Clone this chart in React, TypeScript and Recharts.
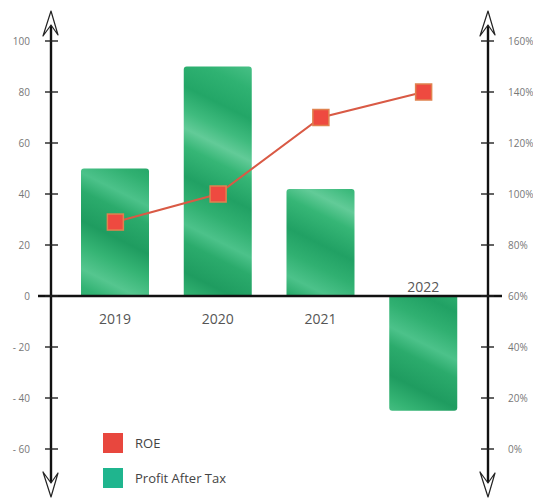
import React from 'react';
import { ComposedChart, Bar, Line, XAxis, YAxis, ReferenceLine, LabelList, Legend } from 'recharts';

const years = ['2019', '2020', '2021', '2022'];
const profitAfterTax = [50, 90, 42, -45];
const roe = [89, 100, 130, 140];
const leftTicks = [-60, -40, -20, 0, 20, 40, 60, 80, 100];
const rightTicks = [0, 20, 40, 60, 80, 100, 120, 140, 160];

const data = years.map((y, i) => ({ year: y, profit: profitAfterTax[i], roe: roe[i] }));

const FONT = '"Open Sans", "Noto Sans", sans-serif';
const RED = '#e8473e';
const TEAL = '#1fb58e';
const legendItems = [
  { name: 'ROE', color: RED },
  { name: 'Profit After Tax', color: TEAL },
];

const textureStops: [number, string][] = [
  [0, '#3dbd7f'], [0.04, '#56c690'], [0.07, '#34b677'], [0.11, '#2aaf6e'], [0.15, '#48c086'],
  [0.19, '#2fb272'], [0.24, '#23a667'], [0.28, '#3fbb7e'], [0.31, '#62cb98'], [0.34, '#36b676'],
  [0.39, '#21a164'], [0.43, '#30b071'], [0.47, '#4cc28a'], [0.5, '#2bab6c'], [0.55, '#1f9c60'],
  [0.59, '#35b474'], [0.63, '#55c68f'], [0.66, '#33b374'], [0.71, '#24a466'], [0.75, '#3cba7c'],
  [0.79, '#2aad6d'], [0.83, '#4dc38b'], [0.87, '#2cad6d'], [0.92, '#22a265'], [0.96, '#3aba7b'],
  [1, '#30b173'],
];

const fmtLeft = (v: number) => (v < 0 ? `- ${Math.abs(v)}` : `${v}`);

const LeftTick = (props: any) => {
  const { x, y, payload } = props;
  return (
    <g>
      <line x1={x + 15} x2={x + 28} y1={y} y2={y} stroke="#222" strokeWidth={1.4} />
      <text x={x} y={y} textAnchor="end" dominantBaseline="central" fontFamily={FONT} fontSize={10} fill="#777">
        {fmtLeft(payload.value)}
      </text>
    </g>
  );
};

const RightTick = (props: any) => {
  const { x, y, payload } = props;
  return (
    <g>
      <line x1={x - 27} x2={x - 14} y1={y} y2={y} stroke="#222" strokeWidth={1.4} />
      <text x={x} y={y} textAnchor="start" dominantBaseline="central" fontFamily={FONT} fontSize={10} fill="#777">
        {`${payload.value}%`}
      </text>
    </g>
  );
};

const AxisDecor = (props: any) => {
  const { viewBox, side } = props;
  if (!viewBox) return null;
  const { x, y, width, height } = viewBox;
  const ax = side === 'left' ? x + width : x;
  const top = y - 30;
  const bottom = y + height + 48;
  return (
    <g>
      <line x1={ax} x2={ax} y1={top + 8} y2={bottom - 6} stroke="#111" strokeWidth={2.4} />
      <path
        d={`M ${ax - 8} ${top + 25} L ${ax} ${top} L ${ax + 7} ${top + 24} L ${ax} ${top + 14} Z`}
        fill="#fff"
        stroke="#222"
        strokeWidth={1.2}
        strokeLinejoin="round"
      />
      <path
        d={`M ${ax - 8} ${bottom - 25} L ${ax} ${bottom} L ${ax + 7} ${bottom - 24} L ${ax} ${bottom - 14} Z`}
        fill="#fff"
        stroke="#222"
        strokeWidth={1.2}
        strokeLinejoin="round"
      />
    </g>
  );
};

const ZeroLine = (props: any) => {
  const { viewBox } = props;
  if (!viewBox) return null;
  const { x, y, width } = viewBox;
  return <line x1={x - 13} x2={x + width + 14} y1={y} y2={y} stroke="#111" strokeWidth={2.4} />;
};

const YearLabel = (props: any) => {
  const vb = props.viewBox ?? props;
  const { x, y, width, height } = vb;
  const idx = props.index;
  const v = profitAfterTax[idx];
  const base = v >= 0 ? Math.max(y, y + height) : Math.min(y, y + height);
  const ty = v >= 0 ? base + 22 : base - 10;
  return (
    <text x={x + width / 2} y={ty} textAnchor="middle" dominantBaseline="central" fontFamily={FONT} fontSize={14} fill="#555">
      {props.value}
    </text>
  );
};

const SquareDot = (props: any) => {
  const { cx, cy } = props;
  if (cx == null || cy == null) return null;
  return <rect x={cx - 8} y={cy - 8} width={16} height={16} fill="#ee4a40" stroke="#e0824f" strokeWidth={1.5} />;
};

const renderLegend = () => (
  <div style={{ fontFamily: FONT, fontSize: 13, color: '#444' }}>
    {legendItems.map((item) => (
      <div key={item.name} style={{ display: 'flex', alignItems: 'center', height: 35 }}>
        <span style={{ display: 'inline-block', width: 20, height: 20, background: item.color, marginRight: 12 }} />
        <span>{item.name}</span>
      </div>
    ))}
  </div>
);

export default function App() {
  return (
    <div style={{ position: 'absolute', left: 0, top: 0 }}>
      <ComposedChart width={533} height={504} data={data} margin={{ top: 41, right: 0, bottom: 55, left: 0 }}>
        <defs>
          <linearGradient id="greenTex" gradientUnits="userSpaceOnUse" x1="300" y1="0" x2="60" y2="480">
            {textureStops.map(([o, c], i) => (
              <stop key={i} offset={`${o * 100}%`} stopColor={c} />
            ))}
          </linearGradient>
        </defs>
        <XAxis dataKey="year" hide padding={{ left: 13, right: 13 }} />
        <YAxis
          yAxisId="left"
          orientation="left"
          width={51}
          domain={[-60, 100]}
          ticks={leftTicks}
          interval={0}
          axisLine={false}
          tickLine={false}
          tickSize={6}
          tickMargin={15}
          tick={<LeftTick />}
          label={<AxisDecor side="left" />}
        />
        <YAxis
          yAxisId="right"
          orientation="right"
          width={45}
          domain={[0, 160]}
          ticks={rightTicks}
          interval={0}
          axisLine={false}
          tickLine={false}
          tickSize={6}
          tickMargin={14}
          tick={<RightTick />}
          label={<AxisDecor side="right" />}
        />
        <Bar yAxisId="left" dataKey="profit" name="Profit After Tax" barSize={68} fill="url(#greenTex)" radius={[3, 3, 0, 0]} isAnimationActive={false}>
          <LabelList dataKey="year" content={<YearLabel />} />
        </Bar>
        <ReferenceLine yAxisId="left" y={0} stroke="none" label={<ZeroLine />} />
        <Line
          yAxisId="right"
          dataKey="roe"
          name="ROE"
          type="linear"
          stroke="#d95a45"
          strokeWidth={2}
          dot={<SquareDot />}
          activeDot={false}
          isAnimationActive={false}
        />
        <Legend
          layout="vertical"
          align="center"
          verticalAlign="middle"
          content={renderLegend}
          wrapperStyle={{ left: 103, top: 425, width: 'auto' }}
        />
      </ComposedChart>
    </div>
  );
}
